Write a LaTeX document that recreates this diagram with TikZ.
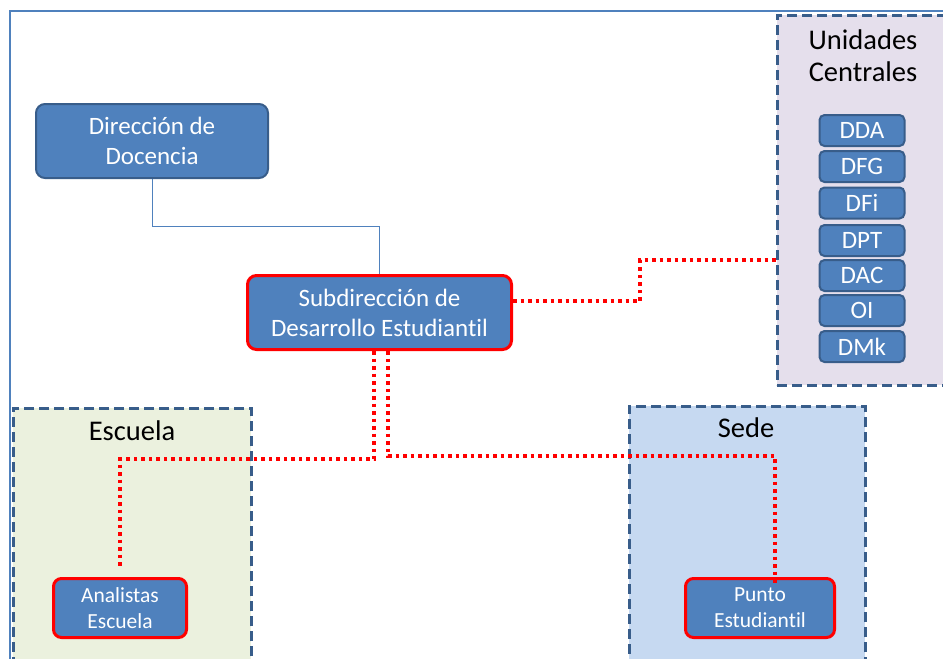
\documentclass[tikz,border=0pt]{standalone}
\usepackage{fontspec}
\setmainfont[Ligatures=NoCommon]{Carlito}
\usetikzlibrary{calc}
\definecolor{obl}{HTML}{4F81BD}
\definecolor{obd}{HTML}{385D8A}
\definecolor{ucfill}{HTML}{E5DFEC}
\definecolor{esfill}{HTML}{EBF1DE}
\definecolor{sefill}{HTML}{C6D9F1}
\definecolor{rdot}{HTML}{FF0000}
\tikzset{
  unit/.style={draw=obd, line width=2pt, fill=obl, rounded corners=9pt, text=white, align=center, inner sep=0pt},
  hiunit/.style={unit, draw=rdot, line width=3pt},
  small/.style={draw=obd, line width=2pt, fill=obl, rounded corners=5pt, text=white, inner sep=0pt,
     minimum width=85pt, minimum height=31pt, font=\fontsize{25}{28}\selectfont},
  group/.style={draw=obd, line width=2.8pt, dash pattern=on 10pt off 5pt, inner sep=0pt},
  link/.style={draw=obl, line width=1pt},
  dotlink/.style={draw=rdot, line width=3.5pt, dash pattern=on 3.5pt off 4pt},
  grouptitle/.style={align=center, text=black, font=\fontsize{28.5}{32}\selectfont},
}
\begin{document}
\begin{tikzpicture}[x=1pt,y=-1pt]
\useasboundingbox (0,0) rectangle (943,659);
\begin{scope}
\clip (0,0) rectangle (943,659);
% outer frame
\draw[obl, line width=2pt] (10,700) -- (10,11) -- (960,11);
% group boxes
\node[group, fill=ucfill, minimum width=200pt, minimum height=370pt, anchor=north west] (uc) at (776,14) {};
\node[group, fill=esfill, minimum width=238pt, minimum height=280pt, anchor=north west] (esc) at (12,407) {};
\node[group, fill=sefill, minimum width=236pt, minimum height=280pt, anchor=north west] (sede) at (628,405) {};
\end{scope}
% titles
\node[grouptitle] (uct) at (863,56) {Unidades\\Centrales};
\node[grouptitle] (esct) at (132,431) {Escuela};
\node[grouptitle] (sedet) at (746,428) {Sede};
% main units
\node[unit, minimum width=232pt, minimum height=74pt, font=\fontsize{25}{30}\selectfont] (dir) at (152,141) {Dirección de\\Docencia};
\node[hiunit, minimum width=264pt, minimum height=74pt, font=\fontsize{25}{30}\selectfont] (sub) at (379.5,312.5) {Subdirección de\\Desarrollo Estudiantil};
\node[hiunit, rounded corners=8pt, minimum width=133pt, minimum height=59pt, font=\fontsize{21.5}{26}\selectfont] (ana) at (120,608) {Analistas\\Escuela};
\node[hiunit, rounded corners=8pt, minimum width=149pt, minimum height=59pt, font=\fontsize{21.5}{26}\selectfont] (pun) at (760,608) {Punto\\Estudiantil};
% small units
\node[small] (dda) at (862,130.5) {DDA};
\node[small] (dfg) at (862,166.5) {DFG};
\node[small] (dfi) at (862,203) {DFi};
\node[small] (dpt) at (862,240.5) {DPT};
\node[small] (dac) at (862,275.5) {DAC};
\node[small] (oi) at (862,310.5) {OI};
\node[small] (dmk) at (862,346.5) {DMk};
% connectors
\coordinate (m1) at (0,226.5);
\draw[link] (dir.south) |- (m1 -| sub.north) -- (sub.north);
\coordinate (r1) at (0,301);
\coordinate (r2) at (640,260);
\draw[dotlink] (sub.east |- r1) -| (r2) -- (uc.west |- r2);
\coordinate (s1) at (374,459);
\coordinate (a1) at (120,568);
\draw[dotlink] (sub.south -| s1) -- (s1) -| (a1);
\coordinate (s2) at (388,456);
\coordinate (p1) at (775,585);
\draw[dotlink] (sub.south -| s2) -- (s2) -| (p1);
\end{tikzpicture}
\end{document}
